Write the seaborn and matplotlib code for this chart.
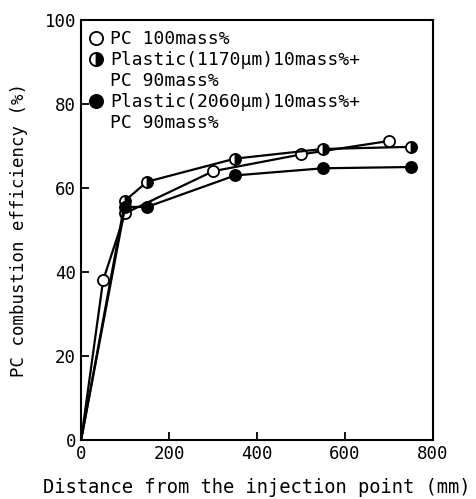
import pandas as pd
import seaborn as sns
import matplotlib.pyplot as plt

# Данные
dist_pc = [0, 50, 100, 300, 500, 700]
eff_pc = [0, 38, 54, 64, 68, 71.2]

dist_1170 = [0, 100, 150, 350, 550, 750]
eff_1170 = [0, 57, 61.5, 67, 69.3, 69.8]

dist_2060 = [0, 100, 150, 350, 550, 750]
eff_2060 = [0, 55.5, 55.5, 63, 64.7, 65]

labels = ["PC 100mass%",
          "Plastic(1170\u03bcm)10mass%+",
          "Plastic(2060\u03bcm)10mass%+"]
label_cont = "PC 90mass%"

sns.set_theme(style="ticks")
plt.rcParams['font.family'] = ['DejaVu Sans Mono']
plt.rcParams['text.color'] = 'black'
plt.rcParams['axes.labelcolor'] = 'black'

fig = plt.figure(figsize=(4.77, 4.99), dpi=100)
ax = fig.add_axes([0.17, 0.118, 0.738, 0.842])

series = [
    (dist_pc, eff_pc, dict(markerfacecolor='white', fillstyle='full')),
    (dist_1170, eff_1170, dict(markerfacecolor='black', markerfacecoloralt='white', fillstyle='right')),
    (dist_2060, eff_2060, dict(markerfacecolor='black', fillstyle='full')),
]

handles = []
leg_labels = []
blank, = ax.plot([], [], linestyle='none', marker='none')
for i, ((x, y, style), lab) in enumerate(zip(series, labels)):
    df = pd.DataFrame({'x': x, 'y': y})
    sns.lineplot(data=df, x='x', y='y', ax=ax, color='black', linewidth=1.6,
                 marker='o', markersize=8, markeredgecolor='black',
                 markeredgewidth=1.3, markevery=slice(1, None), **style)
    h, = ax.plot([], [], linestyle='none', marker='o', markersize=9.5, color='black',
                 markeredgecolor='black', markeredgewidth=1.3, **style)
    handles.append(h)
    leg_labels.append(lab)
    if i > 0:
        handles.append(blank)
        leg_labels.append(label_cont)

ax.set_xlim(0, 800)
ax.set_ylim(0, 100)
ax.set_xticks([0, 200, 400, 600, 800])
ax.set_yticks([0, 20, 40, 60, 80, 100])
ax.tick_params(direction='in', length=6, width=1.3, labelsize=12.5, colors='black')
for s in ax.spines.values():
    s.set_linewidth(1.5)
    s.set_color('black')

ax.set_xlabel("Distance from the injection point (mm)", fontsize=13.5, labelpad=11)
ax.set_ylabel("PC combustion efficiency (%)", fontsize=12.5, labelpad=12)

ax.legend(handles, leg_labels, loc='upper left', frameon=False, fontsize=13,
          handlelength=0.6, handletextpad=0.45, labelspacing=0.17,
          borderaxespad=0.2, borderpad=0.35)

fig.savefig("out.png", dpi=100)
